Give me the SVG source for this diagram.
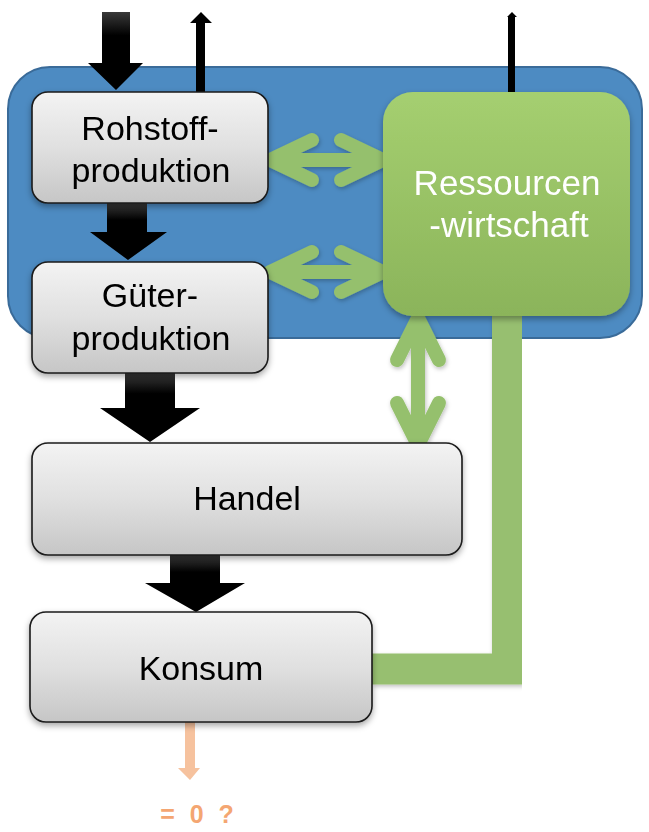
<svg xmlns="http://www.w3.org/2000/svg" width="649" height="832" viewBox="0 0 649 832">
<defs>
<linearGradient id="grayG" x1="0" y1="0" x2="0" y2="1">
<stop offset="0" stop-color="#f3f3f3"/>
<stop offset="0.5" stop-color="#e0e0e0"/>
<stop offset="1" stop-color="#c6c6c6"/>
</linearGradient>
<linearGradient id="greenG" x1="0" y1="0" x2="0" y2="1">
<stop offset="0" stop-color="#a5cf70"/>
<stop offset="1" stop-color="#8bb45a"/>
</linearGradient>
<linearGradient id="blackG" x1="0" y1="0" x2="0" y2="1">
<stop offset="0" stop-color="#3a3a3a"/>
<stop offset="0.3" stop-color="#000"/>
<stop offset="1" stop-color="#000"/>
</linearGradient>
<filter id="sh" x="-10%" y="-10%" width="120%" height="130%">
<feDropShadow dx="0" dy="3" stdDeviation="3" flood-color="#000" flood-opacity="0.35"/>
</filter>
<filter id="shs" x="-10%" y="-10%" width="120%" height="130%">
<feDropShadow dx="1" dy="2" stdDeviation="2" flood-color="#000" flood-opacity="0.25"/>
</filter>
</defs>
<style>
.box{fill:url(#grayG);stroke:#1a1a1a;stroke-width:1.6}
.lbl{font-family:"Liberation Sans",Arial,sans-serif;font-size:34px;fill:#000;text-anchor:middle}
.wlbl{font-family:"Liberation Sans",Arial,sans-serif;font-size:35px;fill:#fff;text-anchor:middle}
.blk{fill:url(#blackG)}
.garr{fill:none;stroke:#95c06d;stroke-width:14;stroke-linecap:round;stroke-linejoin:round}
</style>
<rect width="649" height="832" fill="#fff"/>
<g id="container">
<rect x="8" y="67" width="634" height="271" rx="42" fill="#4d8bc2" stroke="#3a6b99" stroke-width="2"/>
</g>
<g id="connectors">
<path d="M372 669 H507.5 V316" fill="none" stroke="#97bf6f" stroke-width="31" stroke-linejoin="miter" filter="url(#shs)"/>
<polygon class="blk" points="102,12 130,12 130,63 143,63 116,90 88,63 102,63"/>
<polygon fill="#000" points="196,92 196,23 190,23 201,12 212,23 205,23 205,92"/>
<polygon fill="#000" points="508,92 508,17 507,17 512,12 517,17 515,17 515,92"/>
<polygon class="blk" points="107,203 147,203 147,232 167,232 128,260 90,232 107,232"/>
<polygon class="blk" points="125,373 175,373 175,408 200,408 150,442 100,408 125,408"/>
<polygon class="blk" points="170,555 220,555 220,583 245,583 196,612 145,583 170,583"/>
<polygon fill="#f6c29e" points="185,722 195,722 195,768 200,768 190,780 178,768 185,768"/>
<g class="garr" filter="url(#shs)">
<path d="M270 160 H383 M312 140 L270 160 L312 180 M341 140 L383 160 L341 180"/>
<path d="M270 272 H383 M312 252 L270 272 L312 292 M341 252 L383 272 L341 292"/>
<path d="M418 318 V445 M397 360 L418 318 L439 360 M397 403 L418 445 L439 403"/>
</g>
</g>
<g id="rohstoff" filter="url(#sh)">
<rect class="box" x="32" y="92" width="236" height="111" rx="16"/>
<text class="lbl" x="150" y="140">Rohstoff-</text>
<text class="lbl" x="151" y="182">produktion</text>
</g>
<g id="gueter" filter="url(#sh)">
<rect class="box" x="32" y="262" width="236" height="111" rx="16"/>
<text class="lbl" x="150" y="307">Güter-</text>
<text class="lbl" x="151" y="350">produktion</text>
</g>
<g id="ressourcen" filter="url(#sh)">
<rect x="383" y="92" width="247" height="224" rx="30" fill="url(#greenG)"/>
<text class="wlbl" x="507" y="195">Ressourcen</text>
<text class="wlbl" x="509" y="237">-wirtschaft</text>
</g>
<g id="handel" filter="url(#sh)">
<rect class="box" x="32" y="443" width="430" height="112" rx="16"/>
<text class="lbl" x="247" y="510">Handel</text>
</g>
<g id="konsum" filter="url(#sh)">
<rect class="box" x="30" y="612" width="342" height="110" rx="16"/>
<text class="lbl" x="201" y="680">Konsum</text>
</g>
<g id="result">
<text x="199" y="823" font-family="Liberation Sans,Arial,sans-serif" font-size="25" fill="#f4a672" text-anchor="middle" letter-spacing="4" font-weight="bold">= 0 ?</text>
</g>
</svg>
